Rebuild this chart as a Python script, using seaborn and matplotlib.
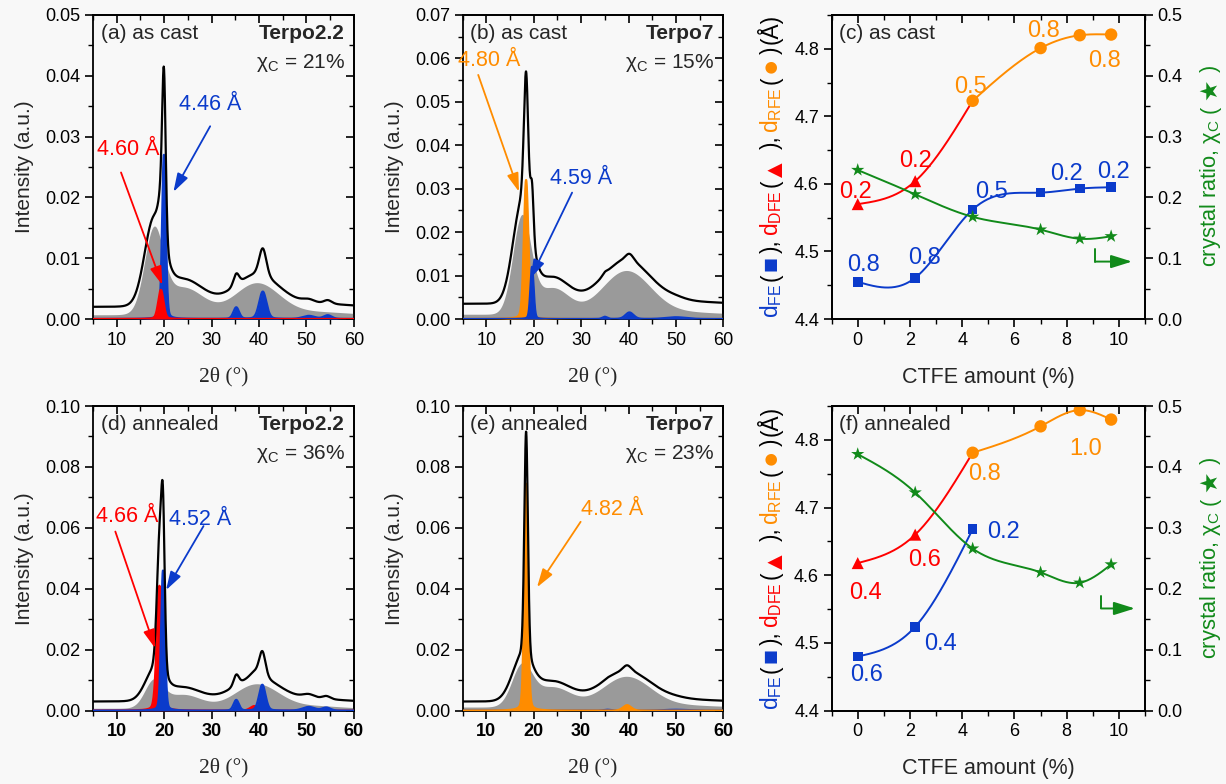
import numpy as np
import matplotlib
matplotlib.use("Agg")
import matplotlib.pyplot as plt
from matplotlib.ticker import MultipleLocator, FormatStrFormatter, FixedLocator
import seaborn as sns

sns.set_theme(style="ticks")
plt.rcParams["font.family"] = ["Liberation Sans", "DejaVu Sans"]
plt.rcParams["mathtext.fontset"] = "custom"
plt.rcParams["mathtext.rm"] = "Liberation Sans"
plt.rcParams["mathtext.it"] = "Liberation Sans:italic"
plt.rcParams["mathtext.bf"] = "Liberation Sans:bold"
plt.rcParams["axes.edgecolor"] = "black"
plt.rcParams["xtick.color"] = "black"
plt.rcParams["ytick.color"] = "black"

# ---------------- data ----------------
# XRD peak decomposition (centre 2theta, height, FWHM) per panel
a_amor_c = [17.8, 24.0, 39.5, 52.0]
a_amor_h = [0.0130, 0.0045, 0.0052, 0.0005]
a_amor_w = [4.6, 10.0, 11.0, 15.0]
a_amor_base = 0.0007
a_blue_c = [19.95, 35.2, 40.8, 50.5, 54.5]
a_blue_h = [0.0270, 0.0019, 0.0045, 0.0005, 0.0006]
a_blue_w = [0.9, 1.4, 1.8, 3.0, 2.0]
a_red_c = [19.3]
a_red_h = [0.0048]
a_red_w = [1.3]
a_offset = 0.0013

b_amor_c = [17.5, 24.0, 39.5, 52.0]
b_amor_h = [0.022, 0.006, 0.010, 0.0005]
b_amor_w = [4.5, 8.0, 12.0, 15.0]
b_amor_base = 0.0011
b_orange_c = [18.4]
b_orange_h = [0.0320]
b_orange_w = [1.1]
b_blue_c = [19.65, 35.0, 40.2, 50.0]
b_blue_h = [0.012, 0.0005, 0.0015, 0.0004]
b_blue_w = [0.8, 1.2, 2.0, 5.0]
b_offset = 0.0024

d_amor_c = [17.8, 24.0, 39.5, 52.0]
d_amor_h = [0.0085, 0.0045, 0.0080, 0.0008]
d_amor_w = [4.5, 9.0, 11.0, 12.0]
d_amor_base = 0.0008
d_red_c = [19.0, 39.0]
d_red_h = [0.041, 0.0015]
d_red_w = [1.3, 2.0]
d_blue_c = [19.75, 35.2, 40.7, 50.5, 54.2]
d_blue_h = [0.046, 0.0035, 0.0085, 0.0012, 0.0010]
d_blue_w = [0.9, 1.3, 1.6, 3.0, 2.0]
d_offset = 0.0022

e_amor_c = [17.5, 24.0, 39.5, 52.0]
e_amor_h = [0.013, 0.0065, 0.010, 0.0006]
e_amor_w = [5.0, 9.0, 12.0, 15.0]
e_amor_base = 0.0012
e_orange_c = [18.4, 39.7]
e_orange_h = [0.0745, 0.0018]
e_orange_w = [0.9, 2.0]
e_blue_c = [35.5, 50.0]
e_blue_h = [0.0003, 0.0003]
e_blue_w = [2.0, 6.0]
e_offset = 0.0018

# CTFE series
ctfe = [0.0, 2.2, 4.4, 7.0, 8.5, 9.7]
c_d_fe = [4.455, 4.461, 4.562, 4.587, 4.593, 4.595]
c_d_dfe = [4.570, 4.604]
c_d_rfe = [4.723, 4.801, 4.820, 4.821]
c_chi = [0.245, 0.205, 0.168, 0.147, 0.132, 0.136]
f_d_fe = [4.480, 4.524, 4.668]
f_d_dfe = [4.618, 4.660]
f_d_rfe = [4.781, 4.820, 4.844, 4.830]
f_chi = [0.421, 0.358, 0.266, 0.227, 0.210, 0.240]

xrd_xticks = [10, 20, 30, 40, 50, 60]

BLUE = "#0b3bcb"
RED = "#ff0000"
ORANGE = "#ff8c00"
GREEN = "#118a1a"
GRAY = "#9a9a9a"
BG = "#f8f8f8"
K = "black"

# ---------------- helpers ----------------
tt = np.linspace(5, 60, 2201)
ETA = 0.2


def peaks(c, h, w, lorentz=0.0):
    y = np.zeros_like(tt)
    for ci, hi, wi in zip(c, h, w):
        g = np.exp(-4 * np.log(2) * ((tt - ci) / wi) ** 2)
        l = 1.0 / (1.0 + 4 * ((tt - ci) / wi) ** 2)
        y += hi * ((1 - lorentz) * g + lorentz * l)
    return y


def nat_spline(x, y, n=300):
    x = np.asarray(x, float)
    y = np.asarray(y, float)
    m = len(x)
    if m < 3:
        return x, y
    h = np.diff(x)
    A = np.zeros((m, m))
    r = np.zeros(m)
    A[0, 0] = A[-1, -1] = 1
    for i in range(1, m - 1):
        A[i, i - 1] = h[i - 1]
        A[i, i] = 2 * (h[i - 1] + h[i])
        A[i, i + 1] = h[i]
        r[i] = 3 * ((y[i + 1] - y[i]) / h[i] - (y[i] - y[i - 1]) / h[i - 1])
    c = np.linalg.solve(A, r)
    b = (y[1:] - y[:-1]) / h - h * (2 * c[:-1] + c[1:]) / 3
    d = (c[1:] - c[:-1]) / (3 * h)
    xs = np.linspace(x[0], x[-1], n)
    idx = np.clip(np.searchsorted(x, xs) - 1, 0, m - 2)
    dx = xs - x[idx]
    return xs, y[idx] + b[idx] * dx + c[idx] * dx ** 2 + d[idx] * dx ** 3


def frame(ax, xmin, ymaj, ymin, right_in=True):
    for sp in ax.spines.values():
        sp.set_visible(True)
        sp.set_linewidth(1.3)
        sp.set_color("black")
    ax.xaxis.set_minor_locator(MultipleLocator(xmin))
    ax.yaxis.set_major_locator(MultipleLocator(ymaj))
    ax.yaxis.set_minor_locator(MultipleLocator(ymin))
    ax.tick_params(which="both", direction="out", top=False, right=False,
                   labelsize=13, pad=3)
    ax.tick_params(which="major", length=6, width=1.2)
    ax.tick_params(which="minor", length=3.5, width=1.0)
    sx = ax.secondary_xaxis("top")
    sx.xaxis.set_major_locator(FixedLocator(ax.get_xticks()))
    sx.xaxis.set_minor_locator(MultipleLocator(xmin))
    sx.tick_params(which="both", direction="in", labeltop=False)
    sx.tick_params(which="major", length=6, width=1.2)
    sx.tick_params(which="minor", length=3.5, width=1.0)
    sx.spines["top"].set_linewidth(1.3)
    if right_in:
        sy = ax.secondary_yaxis("right")
        sy.yaxis.set_major_locator(MultipleLocator(ymaj))
        sy.yaxis.set_minor_locator(MultipleLocator(ymin))
        sy.tick_params(which="both", direction="in", labelright=False)
        sy.tick_params(which="major", length=6, width=1.2)
        sy.tick_params(which="minor", length=3.5, width=1.0)
        sy.spines["right"].set_linewidth(1.3)


fig = plt.figure(figsize=(12.26, 7.84), dpi=100, facecolor=BG)

W_x = 0.2127
pos = {
    "a": [0.0759, 0.5931, W_x, 0.3878],
    "b": [0.3773, 0.5931, W_x, 0.3878],
    "c": [0.6783, 0.5931, 0.2557, 0.3878],
    "d": [0.0759, 0.0935, W_x, 0.3886],
    "e": [0.3773, 0.0935, W_x, 0.3886],
    "f": [0.6783, 0.0935, 0.2557, 0.3886],
}


def xrd_panel(key, amor, comps, offset, ymax, ymaj, ymin, label, sample, chi,
              notes, bold_x=False):
    ax = fig.add_axes(pos[key])
    ax.set_facecolor(BG)
    amor_y = peaks(*amor[:3]) + amor[3]
    ax.fill_between(tt, 0, amor_y, color=GRAY, lw=0, zorder=2)
    total = amor_y.copy()
    for (c, h, w, col) in comps:
        total += peaks(c, h, w, ETA)
    for (c, h, w, col) in comps:
        y = peaks(c, h, w, ETA)
        ax.fill_between(tt, 0, y, color=col, lw=0, zorder=3)
        sns.lineplot(x=tt, y=y, ax=ax, color=col, lw=1.6, zorder=3,
                     estimator=None, sort=False)
    sns.lineplot(x=tt, y=total + offset, ax=ax, color="black", lw=1.6,
                 zorder=5, estimator=None, sort=False)
    ax.set_xlim(5, 60)
    ax.set_ylim(0, ymax)
    ax.set_xticks(xrd_xticks)
    ax.set_xticklabels([str(v) for v in xrd_xticks],
                       fontweight="bold" if bold_x else "normal")
    frame(ax, 5, ymaj, ymin)
    ax.yaxis.set_major_formatter(FormatStrFormatter("%.2f"))
    ax.set_xlabel("2θ (°)", family="Liberation Serif", fontsize=15.5, labelpad=13)
    ax.set_ylabel("Intensity (a.u.)", fontsize=15, labelpad=8)
    ax.text(0.03, 0.94, label, transform=ax.transAxes, fontsize=15,
            ha="left", va="center", zorder=7)
    ax.text(0.965, 0.94, sample, transform=ax.transAxes, fontsize=15,
            fontweight="bold", ha="right", va="center", zorder=7)
    ax.text(0.965, 0.842, "χ$_\\mathrm{C}$ = " + chi, transform=ax.transAxes,
            fontsize=15, ha="right", va="center", zorder=7)
    for (txt, col, tpos, start, end) in notes:
        ax.text(tpos[0], tpos[1], txt, color=col, fontsize=15.5,
                ha="center", va="center", zorder=7)
        ax.annotate("", xy=end, xytext=start, zorder=6,
                    arrowprops=dict(arrowstyle="-|>,head_length=0.7,head_width=0.22",
                                    color=col, lw=1.3, mutation_scale=16,
                                    shrinkA=0, shrinkB=0))
    return ax


xrd_panel("a", (a_amor_c, a_amor_h, a_amor_w, a_amor_base),
          [(a_blue_c, a_blue_h, a_blue_w, BLUE), (a_red_c, a_red_h, a_red_w, RED)],
          a_offset, 0.05, 0.01, 0.005, "(a) as cast", "Terpo2.2", "21%",
          [("4.60 Å", RED, (12.5, 0.0278), (10.9, 0.0241), (19.6, 0.0056)),
           ("4.46 Å", BLUE, (29.7, 0.0352), (29.7, 0.0317), (21.95, 0.0209))])

xrd_panel("b", (b_amor_c, b_amor_h, b_amor_w, b_amor_base),
          [(b_orange_c, b_orange_h, b_orange_w, ORANGE), (b_blue_c, b_blue_h, b_blue_w, BLUE)],
          b_offset, 0.07, 0.01, 0.005, "(b) as cast", "Terpo7", "15%",
          [("4.80 Å", ORANGE, (10.6, 0.0596), (8.3, 0.0562), (16.9, 0.0293)),
           ("4.59 Å", BLUE, (29.9, 0.0324), (28.1, 0.0291), (19.35, 0.0094))])

xrd_panel("d", (d_amor_c, d_amor_h, d_amor_w, d_amor_base),
          [(d_red_c, d_red_h, d_red_w, RED), (d_blue_c, d_blue_h, d_blue_w, BLUE)],
          d_offset, 0.10, 0.02, 0.01, "(d) annealed", "Terpo2.2", "36%",
          [("4.66 Å", RED, (12.2, 0.0639), (9.7, 0.0588), (18.1, 0.0205)),
           ("4.52 Å", BLUE, (27.6, 0.0626), (28.3, 0.0606), (20.4, 0.0396))],
          bold_x=True)

xrd_panel("e", (e_amor_c, e_amor_h, e_amor_w, e_amor_base),
          [(e_blue_c, e_blue_h, e_blue_w, BLUE), (e_orange_c, e_orange_h, e_orange_w, ORANGE)],
          e_offset, 0.10, 0.02, 0.01, "(e) annealed", "Terpo7", "23%",
          [("4.82 Å", ORANGE, (36.6, 0.0661), (29.9, 0.062), (20.7, 0.0405))],
          bold_x=True)


def dist_panel(key, fe, dfe, rfe, chi, label, notes, green_arrow):
    ax = fig.add_axes(pos[key])
    ax.set_facecolor(BG)
    x_fe = ctfe[:len(fe)]
    x_dfe = ctfe[:len(dfe)]
    x_rfe = ctfe[len(ctfe) - len(rfe):]
    xs, ys = nat_spline(x_fe, fe)
    sns.lineplot(x=xs, y=ys, ax=ax, color=BLUE, lw=1.4, estimator=None, sort=False)
    xs, ys = nat_spline(x_dfe + x_rfe[:1], dfe + rfe[:1])
    sns.lineplot(x=xs, y=ys, ax=ax, color=RED, lw=1.4, estimator=None, sort=False)
    xs, ys = nat_spline(x_rfe, rfe)
    sns.lineplot(x=xs, y=ys, ax=ax, color=ORANGE, lw=1.4, estimator=None, sort=False)
    sns.scatterplot(x=x_fe, y=fe, ax=ax, marker="s", s=48, color=BLUE,
                    edgecolor="none", zorder=4)
    sns.scatterplot(x=x_dfe, y=dfe, ax=ax, marker="^", s=75, color=RED,
                    edgecolor="none", zorder=4)
    sns.scatterplot(x=x_rfe, y=rfe, ax=ax, marker="o", s=80, color=ORANGE,
                    edgecolor="none", zorder=4)
    ax.set_xlim(-1, 11)
    ax.set_ylim(4.4, 4.85)
    ax.set_xticks([0, 2, 4, 6, 8, 10])
    frame(ax, 1, 0.1, 0.05, right_in=False)
    ax.yaxis.set_major_formatter(FormatStrFormatter("%.1f"))
    ax.set_xlabel("CTFE amount (%)", fontsize=15.5, labelpad=13)
    ax.text(0.025, 0.94, label, transform=ax.transAxes, fontsize=15,
            ha="left", va="center")
    for (txt, col, x, y) in notes:
        ax.text(x, y, txt, color=col, fontsize=17, ha="center", va="center", zorder=6)
    ax2 = ax.twinx()
    xs, ys = nat_spline(ctfe, chi)
    sns.lineplot(x=xs, y=ys, ax=ax2, color=GREEN, lw=1.4, estimator=None, sort=False)
    sns.scatterplot(x=ctfe, y=chi, ax=ax2, marker="*", s=100, color=GREEN,
                    edgecolor="none", zorder=4)
    ax2.set_ylim(0, 0.5)
    ax2.yaxis.set_major_locator(MultipleLocator(0.1))
    ax2.yaxis.set_minor_locator(MultipleLocator(0.05))
    ax2.yaxis.set_major_formatter(FormatStrFormatter("%.1f"))
    ax2.tick_params(which="both", direction="out", labelsize=13, pad=3)
    ax2.tick_params(which="major", length=6, width=1.2)
    ax2.tick_params(which="minor", length=3.5, width=1.0)
    for sp in ax2.spines.values():
        sp.set_linewidth(1.3)
    (x0, y0), (x1, y1) = green_arrow
    ax.plot([x0, x0], [y0, y1], color=GREEN, lw=1.4, zorder=6)
    ax.annotate("", xy=(x1, y1), xytext=(x0, y1), zorder=6,
                arrowprops=dict(arrowstyle="-|>,head_length=0.8,head_width=0.25",
                                color=GREEN, lw=1.4, mutation_scale=16,
                                shrinkA=0, shrinkB=0))
    return ax


dist_panel("c", c_d_fe, c_d_dfe, c_d_rfe, c_chi, "(c) as cast",
           [("0.8", BLUE, 0.22, 4.48), ("0.8", BLUE, 2.54, 4.49),
            ("0.5", BLUE, 5.13, 4.588), ("0.2", BLUE, 8.0, 4.615),
            ("0.2", BLUE, 9.78, 4.618),
            ("0.2", RED, -0.1, 4.588), ("0.2", RED, 2.23, 4.634),
            ("0.5", ORANGE, 4.32, 4.744), ("0.8", ORANGE, 7.13, 4.826),
            ("0.8", ORANGE, 9.43, 4.782)],
           ((9.1, 4.504), (10.5, 4.485)))

dist_panel("f", f_d_fe, f_d_dfe, f_d_rfe, f_chi, "(f) annealed",
           [("0.6", BLUE, 0.32, 4.452), ("0.4", BLUE, 3.18, 4.499),
            ("0.2", BLUE, 5.57, 4.664),
            ("0.4", RED, 0.28, 4.574), ("0.6", RED, 2.54, 4.622),
            ("0.8", ORANGE, 4.87, 4.749), ("1.0", ORANGE, 8.74, 4.787)],
           ((9.31, 4.569), (10.61, 4.551)))

# multi-coloured vertical y labels (pieces stacked bottom -> top)
left_pieces = [("d$_\\mathrm{FE}$", BLUE, 1.0), ("(", K, 1.0), ("■", BLUE, 1.1),
               ("),", K, 1.0), ("d$_\\mathrm{DFE}$", RED, 1.0), ("(", K, 1.0),
               ("▲", RED, 1.1), ("),", K, 1.0), ("d$_\\mathrm{RFE}$", ORANGE, 1.0),
               ("(", K, 1.0), ("●", ORANGE, 1.2), (")", K, 1.0), ("(Å)", K, 1.0)]
right_pieces = [("crystal ratio, χ$_\\mathrm{C}$", GREEN, 1.0), ("(", GREEN, 1.0),
                ("★", GREEN, 1.1), (")", GREEN, 1.0)]


def vlabel(pieces, x_px, y_center_px, target_len, fs0, gap_em=0.28):
    r = fig.canvas.get_renderer()
    H = fig.bbox.height
    Wd = fig.bbox.width
    objs = []
    for s, c, f in pieces:
        t = fig.text(0, 0, s, color=c, fontsize=fs0 * f, rotation=90,
                     rotation_mode="anchor", ha="left", va="baseline")
        objs.append(t)

    def measure(fs):
        for t, (s, c, f) in zip(objs, pieces):
            t.set_fontsize(fs * f)
        lens = [t.get_window_extent(r).height for t in objs]
        gap = fs * gap_em * 100 / 72
        return lens, gap, sum(lens) + gap * (len(objs) - 1)

    lens, gap, total = measure(fs0)
    fs = fs0 * target_len / total
    lens, gap, total = measure(fs)
    y = y_center_px + total / 2
    for t, L in zip(objs, lens):
        t.set_position((x_px / Wd, 1 - y / H))
        y -= L + gap


vlabel(left_pieces, 778, 166, 306, 15, gap_em=0.13)
vlabel(left_pieces, 778, 558, 306, 15, gap_em=0.13)
vlabel(right_pieces, 1216, 166, 203, 15)
vlabel(right_pieces, 1216, 558, 203, 15)

fig.savefig("out.png", dpi=100, facecolor=BG)
